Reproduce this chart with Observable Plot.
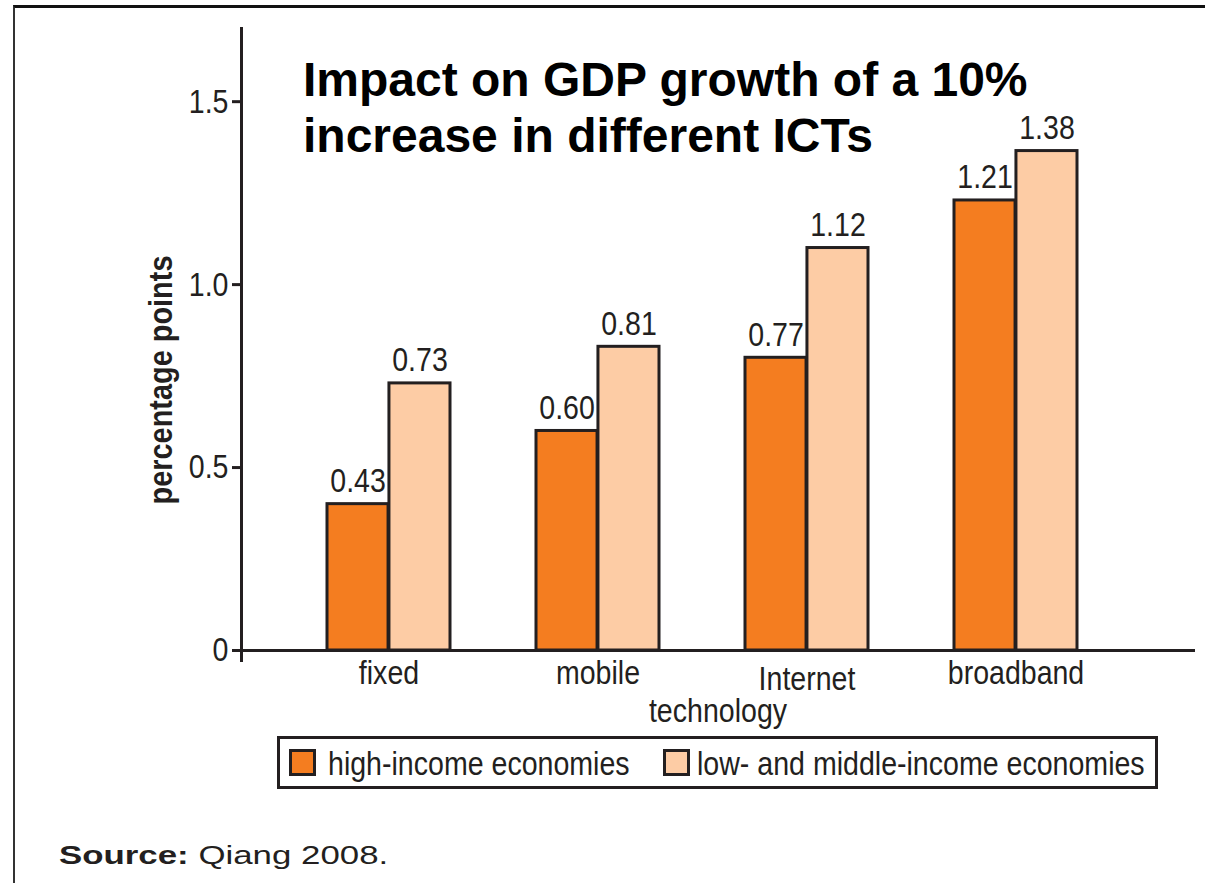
<!DOCTYPE html>
<html>
<head>
<meta charset="utf-8">
<script src="https://cdn.jsdelivr.net/npm/d3@7"></script>
<script src="https://cdn.jsdelivr.net/npm/@observablehq/plot@0.6"></script>
<style>
  html, body { margin: 0; padding: 0; background: #fff; }
  #page { position: relative; width: 1205px; height: 883px; overflow: hidden; background: #fff; }
  .narrow { font-family: "Liberation Sans", Arial, sans-serif; color: #231F20; }
  #border { position: absolute; left: 13px; top: 5px; right: 0; bottom: -10px; border-top: 3px solid #111; border-left: 2px solid #333; }
  #chart { position: absolute; left: 0; top: 0; }
  #title { position: absolute; left: 303px; top: 52px; font-family: "Liberation Sans", Arial, sans-serif; font-weight: bold; font-size: 48px; line-height: 56px; color: #000; white-space: nowrap; }
  #ylabel { position: absolute; left: 160px; top: 380px; transform: translate(-50%, -50%) rotate(-90deg) scaleX(0.85); font-size: 34px; font-weight: bold; white-space: nowrap; line-height: 1; }
  #xlabel { position: absolute; left: 718px; top: 693px; transform: translateX(-50%) scaleX(0.84); font-size: 34px; white-space: nowrap; line-height: 34px; }
  #legend { position: absolute; left: 277px; top: 736px; width: 875px; height: 47px; border: 3px solid #231F20; }
  .sw { position: absolute; top: 10px; width: 21px; height: 21px; border: 3px solid #231F20; }
  .lt { position: absolute; top: 5px; font-size: 34px; line-height: 38px; white-space: nowrap; transform-origin: left center; transform: scaleX(0.84); }
  #source { position: absolute; left: 59px; top: 840px; font-family: "Liberation Sans", Arial, sans-serif; font-size: 26px; color: #231F20; white-space: nowrap; transform-origin: left center; transform: scaleX(1.34); }
</style>
</head>
<body>
<div id="page">
  <div id="border"></div>
  <div id="chart"></div>
  <div id="title">Impact on GDP growth of a 10%<br>increase in different ICTs</div>
  <div id="ylabel" class="narrow">percentage points</div>
  <div id="xlabel" class="narrow">technology</div>
  <div id="legend" class="narrow"></div>
  <div id="source"><b>Source:</b> Qiang 2008.</div>
</div>
<script>
// ---- data ----
const technologies = ["fixed", "mobile", "Internet", "broadband"];
// bar heights as drawn (percentage points)
const highIncome = [0.40, 0.60, 0.80, 1.23];
const lowMiddleIncome = [0.73, 0.83, 1.10, 1.365];
// printed value labels
const highIncomeLabels = ["0.43", "0.60", "0.77", "1.21"];
const lowMiddleIncomeLabels = ["0.73", "0.81", "1.12", "1.38"];
const yTicks = [0, 0.5, 1.0, 1.5];
const yTickLabels = ["0", "0.5", "1.0", "1.5"];
const seriesNames = ["high-income economies", "low- and middle-income economies"];
const seriesColors = ["#F47D20", "#FDCCA5"];

const ink = "#231F20";
const font = '"Liberation Sans", Arial, sans-serif';
const narrowScale = 0.84;

const hiData = technologies.map((t, i) => ({tech: t, value: highIncome[i], label: highIncomeLabels[i]}));
const loData = technologies.map((t, i) => ({tech: t, value: lowMiddleIncome[i], label: lowMiddleIncomeLabels[i]}));
const yTickData = yTicks.map((v, i) => ({v, label: yTickLabels[i]}));

const W = 1205, H = 883;
const mL = 241, mR = 10, mT = 28, mB = 233;
const pInner = 0.41, pOuter = 0.4765, align = 0.42;
const step = (W - mL - mR) / (technologies.length - pInner + 2 * pOuter);
const half = step * (1 - pInner) / 2;
const tickLen = 9;

const chart = Plot.plot({
  width: W,
  height: H,
  marginLeft: mL,
  marginRight: mR,
  marginTop: mT,
  marginBottom: mB,
  style: {fontFamily: font, fontSize: "34px", color: ink, background: "transparent"},
  x: {domain: technologies, paddingInner: pInner, paddingOuter: pOuter, align: align, label: null, axis: null},
  y: {domain: [0, 1.7], label: null, axis: null},
  marks: [
    Plot.barY(hiData, {x: "tech", y: "value", fill: seriesColors[0], stroke: ink, strokeWidth: 3, insetRight: half}),
    Plot.barY(loData, {x: "tech", y: "value", fill: seriesColors[1], stroke: ink, strokeWidth: 3, insetLeft: half}),
    Plot.text(hiData, {x: "tech", y: "value", text: "label", dx: -half / 2, dy: -12, lineAnchor: "bottom", fill: ink, fontSize: 34}),
    Plot.text(loData, {x: "tech", y: "value", text: "label", dx: half / 2, dy: -12, lineAnchor: "bottom", fill: ink, fontSize: 34}),
    // y axis: ticks (outside the frame, to the left) + labels
    Plot.tickY(yTickData, {y: "v", stroke: ink, strokeWidth: 3, insetLeft: -tickLen, insetRight: W - mL - mR}),
    Plot.text(yTickData, {y: "v", text: "label", frameAnchor: "left", textAnchor: "end", dx: -13, fill: ink, fontSize: 34}),
    // x axis category labels
    Plot.text(technologies, {x: d => d, text: d => d, frameAnchor: "bottom", lineAnchor: "top", dy: 9, fill: ink, fontSize: 34}),
    Plot.ruleY([0], {stroke: ink, strokeWidth: 3}),
    Plot.frame({anchor: "left", stroke: ink, strokeWidth: 3, insetBottom: -10})
  ]
});
document.getElementById("chart").appendChild(chart);

// condense every chart text horizontally (the original uses a condensed face)
d3.select(chart).selectAll("text").each(function() {
  const xa = parseFloat(this.getAttribute("x"));
  if (!isNaN(xa)) this.setAttribute("x", xa / narrowScale);
  const extra = this.textContent === "Internet" ? " translate(0,6)" : ""; // "Internet" sits slightly lower in the original
  const t = this.getAttribute("transform") || "";
  this.setAttribute("transform", `${t}${extra} scale(${narrowScale},1)`);
});

// legend
const legend = d3.select("#legend");
const swX = [9, 383];
const txX = [48, 417];
seriesNames.forEach((name, i) => {
  legend.append("div").attr("class", "sw").style("left", swX[i] + "px").style("background", seriesColors[i]);
  legend.append("div").attr("class", "lt").style("left", txX[i] + "px").text(name);
});
</script>
</body>
</html>
